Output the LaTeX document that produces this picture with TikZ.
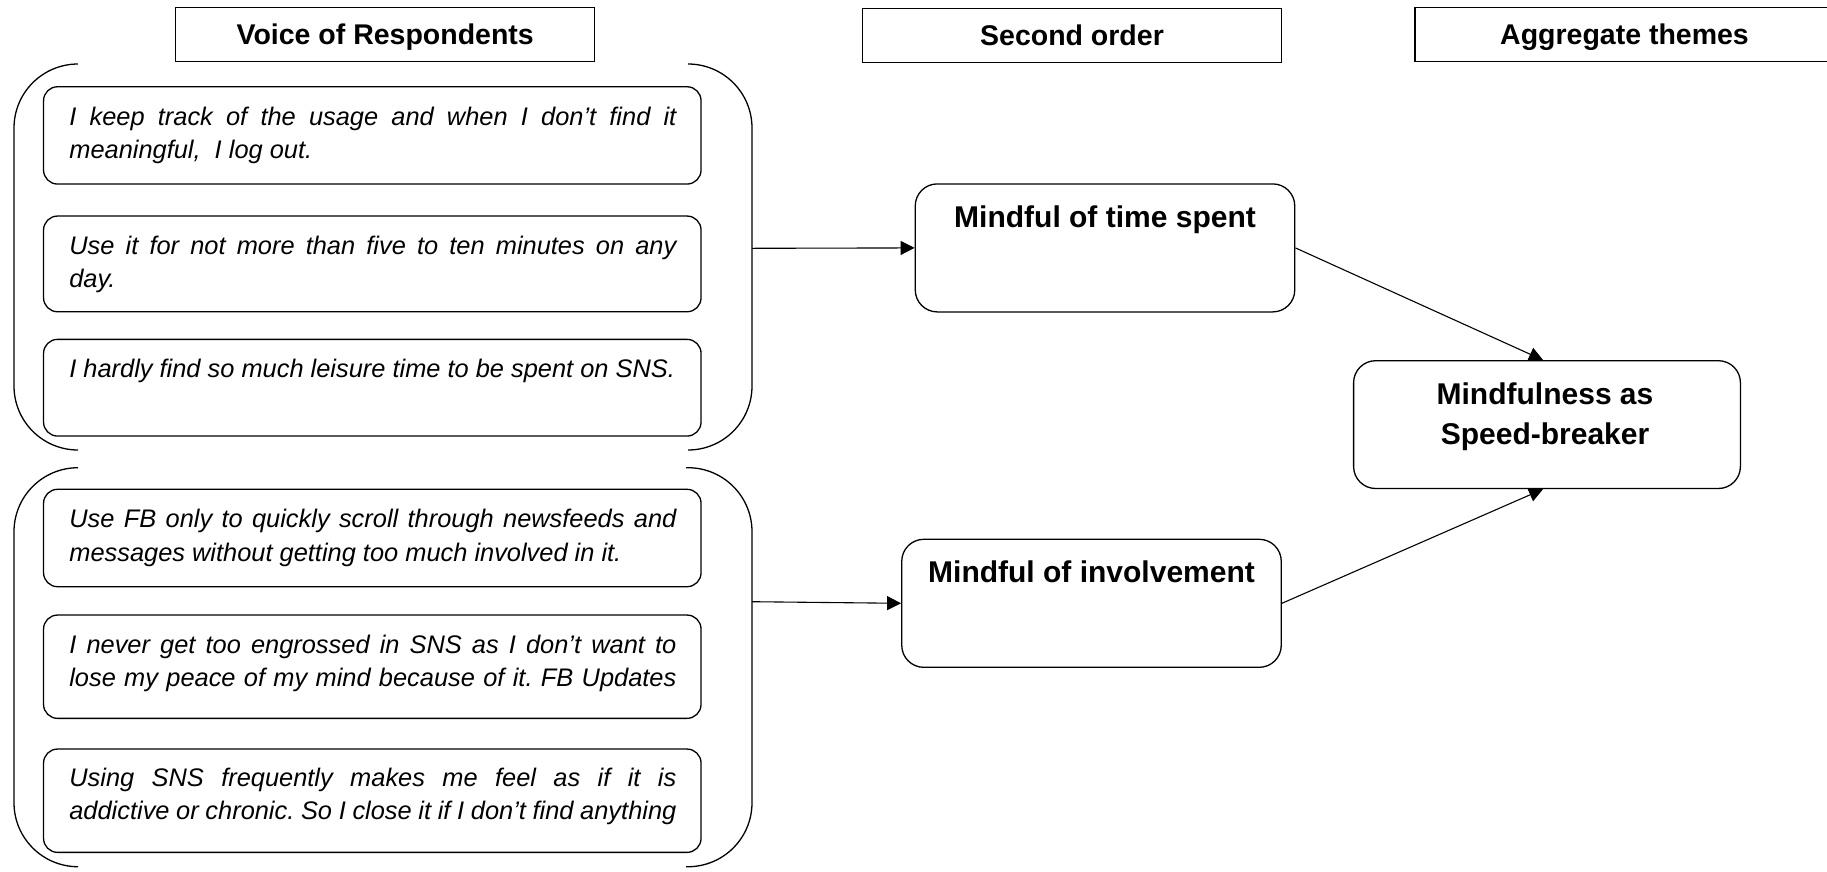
\documentclass[tikz,border=0pt]{standalone}
\usepackage{fontspec}
\setmainfont{Liberation Sans}
\usetikzlibrary{arrows.meta,calc}
\newcommand{\jline}[1]{\makebox[607pt][s]{\spaceskip=.278em plus 1fil minus .05em\relax #1}}
\newcommand{\normsp}{\spaceskip=0pt\xspaceskip=0pt\frenchspacing}
\begin{document}
\begin{tikzpicture}[x=1pt,y=-1pt,
  line width=1.3pt,
  hdr/.style={draw, minimum width=419pt, minimum height=54.5pt, inner sep=0pt,
    text height=20.5pt, text depth=0pt,
    font=\fontsize{28.5}{34}\selectfont\bfseries},
  quote/.style={draw, rounded corners=14pt, minimum width=657.5pt, inner sep=0pt},
  qtext/.style={anchor=base west, inner sep=0pt, text width=640pt, align=left,
    font=\fontsize{25.4}{33.5}\selectfont\itshape},
  sbox/.style={draw, rounded corners=22pt, minimum width=379.5pt, minimum height=128pt, inner sep=0pt},
  stext/.style={anchor=base, inner sep=0pt, font=\fontsize{30}{40}\selectfont\bfseries},
  conn/.style={line width=1.1pt, -{Triangle[length=14pt,width=14pt]}},
  bracket/.style={line width=1.3pt, rounded corners=64pt}
]
\path[use as bounding box, clip] (0,0) rectangle (1827,871);

% headers
\node[hdr] (h1) at (385.2,34.5) {Voice of Respondents};
\node[hdr] (h2) at (1072,35.5) {Second order};
\node[hdr] (h3) at (1624.5,34.5) {Aggregate themes};

% brackets
\draw[bracket] (78,64) -- (14,64) -- (14,450) -- (78,450);
\draw[bracket] (688,64) -- (752,64) -- (752,450) -- (688,450);
\draw[bracket] (78,467.7) -- (14,467.7) -- (14,866.7) -- (78,866.7);
\draw[bracket] (686,467.7) -- (752,467.7) -- (752,866.7) -- (686,866.7);
\coordinate (g1) at (752,248.3);
\coordinate (g2) at (752,601.7);

% quote boxes
\node[quote, minimum height=97.3pt] (q1) at (372.3,135.4) {};
\node[quote, minimum height=95.7pt] (q2) at (372.3,263.9) {};
\node[quote, minimum height=96.7pt] (q3) at (372.3,387.7) {};
\node[quote, minimum height=97.4pt] (q4) at (372.3,538) {};
\node[quote, minimum height=103.3pt] (q5) at (372.3,666.7) {};
\node[quote, minimum height=103.3pt] (q6) at (372.3,800.7) {};

\node[qtext] (q1t) at ($(q1.north west)+(25.8,39.3)$)
  {\normsp\jline{I keep track of the usage and when I don’t find it}\\meaningful,\ \ I log out.};
\node[qtext] (q2t) at ($(q2.north west)+(25.8,39)$)
  {\normsp\jline{Use it for not more than five to ten minutes on any}\\day.};
\node[qtext] (q3t) at ($(q3.north west)+(25.8,38.4)$)
  {\normsp I hardly find so much leisure time to be spent on SNS.};
\node[qtext] (q4t) at ($(q4.north west)+(25.8,39)$)
  {\normsp\jline{Use FB only to quickly scroll through newsfeeds and}\\messages without getting too much involved in it.};
\node[qtext] (q5t) at ($(q5.north west)+(25.8,39)$)
  {\normsp\jline{I never get too engrossed in SNS as I don’t want to}\\\jline{lose my peace of my mind because of it. FB Updates}};
\node[qtext] (q6t) at ($(q6.north west)+(25.8,37.7)$)
  {\normsp\jline{Using SNS frequently makes me feel as if it is}\\\jline{addictive or chronic. So I close it if I don’t find anything}};

% second order
\node[sbox] (s1) at (1105,247.9) {};
\node[sbox] (s2) at (1091.5,603.3) {};
\node[stext] (s1t) at ($(s1.north)+(0,44.3)$) {Mindful of time spent};
\node[stext] (s2t) at ($(s2.north)+(0,44)$) {Mindful of involvement};

% aggregate
\node[sbox, minimum width=386.8pt, minimum height=127.8pt] (agg) at (1547,424.6) {};
\node[stext] (a1) at ($(agg.north)+(-2,44.3)$) {Mindfulness as};
\node[stext] (a2) at ($(agg.north)+(-2,84.3)$) {Speed-breaker};

% connectors
\draw[conn] (g1) -- (s1.west);
\draw[conn] (g2) -- (s2.west);
\draw[conn] (s1.east) -- ($(agg.north)+(-4,0)$);
\draw[conn] (s2.east) -- ($(agg.south)+(-4,0)$);
\end{tikzpicture}
\end{document}
